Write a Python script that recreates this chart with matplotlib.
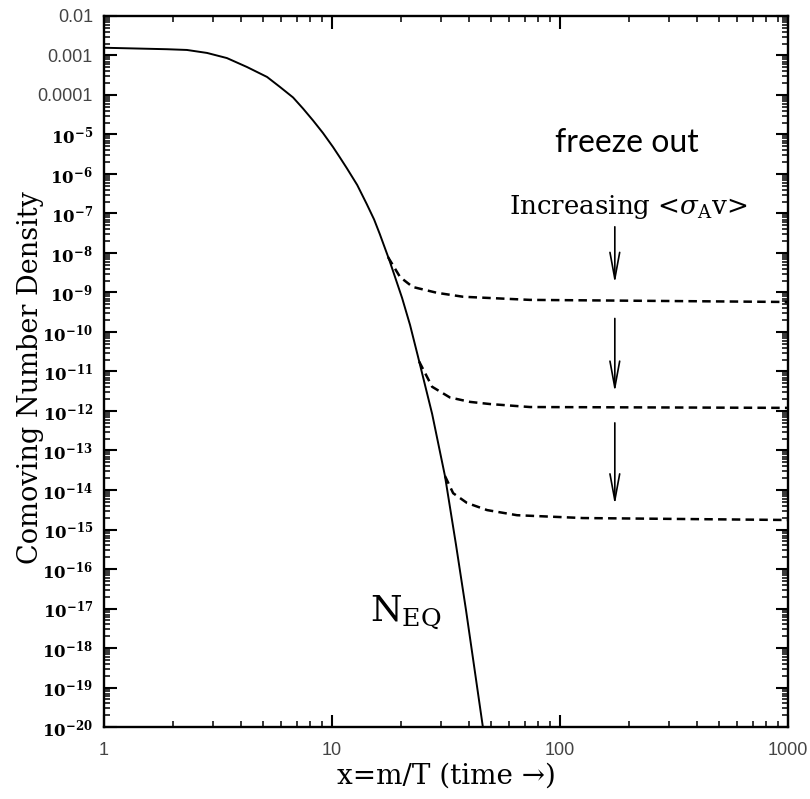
import numpy as np
import matplotlib
matplotlib.use('Agg')
import matplotlib.pyplot as plt
from matplotlib.ticker import FixedLocator, LogLocator, NullFormatter

plt.rcParams['mathtext.fontset'] = 'dejavuserif'

# equilibrium curve
x_eq = [1.0, 1.89, 2.31, 2.83, 3.46, 4.24, 5.19, 5.91, 6.75, 7.46, 8.26, 9.13,
        10.1, 10.8, 11.6, 12.9, 14.2, 15.3, 16.2, 17.9, 20.3, 22.0, 23.8, 27.5,
        31.3, 35.0, 38.7, 42.0, 45.9]
y_eq = [1.57e-3, 1.44e-3, 1.38e-3, 1.16e-3, 8.6e-4, 5.1e-4, 2.86e-4, 1.6e-4,
        8.65e-5, 4.55e-5, 2.26e-5, 1.09e-5, 4.83e-6, 2.69e-6, 1.42e-6, 5.27e-7,
        1.74e-7, 7.05e-8, 3.03e-8, 6.27e-9, 7.26e-10, 1.5e-10, 2.47e-11, 8.4e-13,
        2.26e-14, 4.06e-16, 9.2e-18, 3.5e-19, 1e-20]

# freeze out curves (dashed)
fo1_x = [17.6, 19.9, 22.6, 28.9, 37.6, 73.8, 1000]
fo1_y = [7.9e-9, 2.45e-9, 1.38e-9, 9.8e-10, 7.8e-10, 6.5e-10, 5.75e-10]
fo2_x = [24.1, 27.5, 32.9, 40.3, 49.3, 73.8, 1000]
fo2_y = [1.8e-11, 4.1e-12, 2.2e-12, 1.7e-12, 1.5e-12, 1.26e-12, 1.2e-12]
fo3_x = [31.3, 34.0, 39.1, 47.9, 64.8, 126, 1000]
fo3_y = [2.26e-14, 8.3e-15, 4.7e-15, 3.1e-15, 2.3e-15, 1.95e-15, 1.74e-15]

# arrows "increasing <sigma v>"
arrow_x = 174
arrow_top = [4.6e-8, 2.2e-10, 5.0e-13]
arrow_bottom = [1.7e-9, 3.0e-12, 4.2e-15]

xticks = [1, 10, 100, 1000]
xtick_labels = ['1', '10', '100', '1000']
yticks = [10.0 ** (-k) for k in range(2, 21)]
ytick_labels = ['0.01', '0.001', '0.0001'] + [r'$\mathbf{10^{-%d}}$' % k for k in range(5, 21)]

fig = plt.figure(figsize=(8.1, 7.99), dpi=100)
ax = fig.add_axes([0.1284, 0.0901, 0.8444, 0.8899])

ax.plot(x_eq, y_eq, color='black', lw=1.4)
for fx, fy in [(fo1_x, fo1_y), (fo2_x, fo2_y), (fo3_x, fo3_y)]:
    ax.plot(fx, fy, color='black', lw=1.8, linestyle=(0, (3.4, 2.1)))

for top, bot in zip(arrow_top, arrow_bottom):
    ax.annotate('', xy=(arrow_x, bot), xytext=(arrow_x, top),
                arrowprops=dict(arrowstyle='->,head_length=1.9,head_width=0.35',
                                lw=1.2, color='black', shrinkA=0, shrinkB=0))

ax.set_xscale('log')
ax.set_yscale('log')
ax.set_xlim(1, 1000)
ax.set_ylim(1e-20, 1e-2)

ax.xaxis.set_major_locator(FixedLocator(xticks))
ax.set_xticklabels(xtick_labels)
ax.xaxis.set_minor_locator(LogLocator(base=10, subs=np.arange(2, 10), numticks=100))
ax.xaxis.set_minor_formatter(NullFormatter())
ax.yaxis.set_major_locator(FixedLocator(yticks))
ax.set_yticklabels(ytick_labels)
ax.yaxis.set_minor_locator(LogLocator(base=10, subs=np.arange(2, 10), numticks=1000))
ax.yaxis.set_minor_formatter(NullFormatter())

ax.tick_params(which='both', direction='in', top=True, right=True)
ax.tick_params(which='major', length=9, width=1.5)
ax.tick_params(which='minor', length=4.5, width=1.1)
ax.tick_params(axis='x', pad=11)
ax.tick_params(axis='y', pad=8)
for sp in ax.spines.values():
    sp.set_linewidth(1.7)

for lab in ax.get_xticklabels():
    lab.set_fontfamily('Liberation Sans')
    lab.set_fontsize(13)
    lab.set_color('#444444')
for i, lab in enumerate(ax.get_yticklabels()):
    if i < 3:
        lab.set_fontfamily('Liberation Sans')
        lab.set_fontsize(13)
        lab.set_color('#444444')
    else:
        lab.set_fontsize(12)
        lab.set_color('black')

ax.set_xlabel('x=m/T (time \u2192)', fontfamily='DejaVu Serif', fontsize=20)
ax.xaxis.set_label_coords(0.5, -0.05)
ax.set_ylabel('Comoving Number Density', fontfamily='DejaVu Serif', fontsize=19.5)
ax.yaxis.set_label_coords(-0.088, 0.492)

ax.text(197, 6e-6, 'freeze out', fontfamily='Lato', fontsize=23,
        ha='center', va='center')
ax.text(199, 1.45e-7, r'Increasing <$\sigma_{\rm A}$v>', fontfamily='DejaVu Serif',
        fontsize=18.8, ha='center', va='center')
ax.text(14.7, 5.1e-18, r'N$_{\rm EQ}$', fontfamily='DejaVu Serif', fontsize=26,
        ha='left', va='baseline')

fig.savefig('out.png', dpi=100)
